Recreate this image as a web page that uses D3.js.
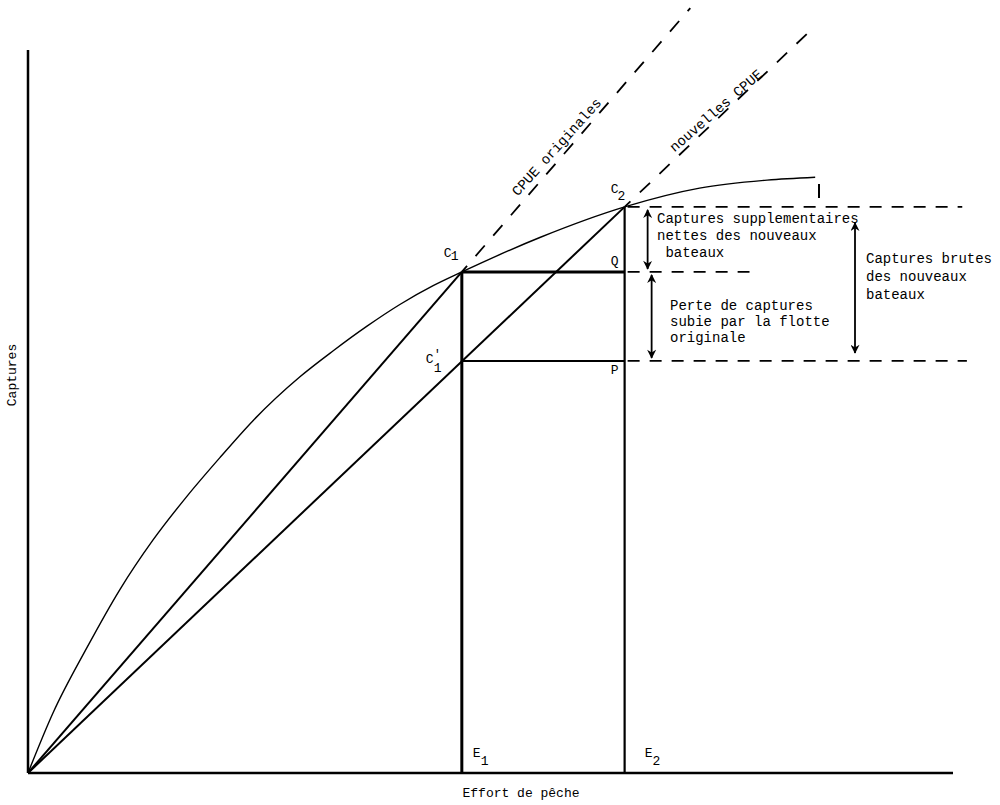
<!DOCTYPE html>
<html>
<head>
<meta charset="utf-8">
<script src="https://cdn.jsdelivr.net/npm/d3@7"></script>
<style>
  html, body { margin: 0; padding: 0; background: #fff; }
  svg { display: block; }
  text { font-family: "Liberation Mono", "DejaVu Sans Mono", monospace; fill: #000; }
</style>
</head>
<body>
<svg id="chart" width="1000" height="805"></svg>
<script>
// ---------- data (abstract units: effort 0..10, captures 0..10) ----------
const curveEffort   = [0, 0.27, 0.64, 0.99, 1.35, 1.72, 2.08, 2.43, 2.94, 3.30, 3.665, 4.02, 4.38, 4.69, 5.54, 6.45, 7.26, 7.99, 8.51];
const curveCaptures = [0, 0.83, 1.74, 2.53, 3.22, 3.83, 4.37, 4.87, 5.48, 5.84, 6.18, 6.48, 6.74, 6.93, 7.41, 7.83, 8.09, 8.20, 8.24];
const effortLevels  = [4.69, 6.45];          // E1, E2
const effortNames   = ["E", "E"];
const effortSubs    = ["1", "2"];
const captureC1 = 6.93, captureC2 = 7.83, captureC1p = 5.70;   // C1, C2, C'1
const cpueOrigEnd = 7.16, cpueNewEnd = 8.45;                   // dashed extension ends (effort)
const levelLineEnds = [10.1, 7.8, 10.15];                      // C2, Q, P dashed level ends (effort)
const axisTitles = ["Effort de pêche", "Captures"];
const noteNet   = ["Captures supplementaires", "nettes des nouveaux", " bateaux"];
const noteLoss  = ["Perte de captures", "subie par la flotte", "originale"];
const noteGross = ["Captures brutes", "des nouveaux", "bateaux"];
const lineNames = ["CPUE originales", "nouvelles CPUE"];

// ---------- scales ----------
const x = d3.scaleLinear().domain([0, 10]).range([28, 953]);
const y = d3.scaleLinear().domain([0, 10]).range([773, 50]);
const svg = d3.select("#chart");

// markers
const defs = svg.append("defs");
defs.append("marker").attr("id", "ah").attr("viewBox", "0 0 10 10")
  .attr("refX", 9).attr("refY", 5).attr("markerWidth", 10).attr("markerHeight", 9)
  .attr("markerUnits", "userSpaceOnUse").attr("orient", "auto-start-reverse")
  .append("path").attr("d", "M0,0 L10,5 L0,10 L3,5 Z").attr("fill", "#000");

// axes (plain lines, no ticks)
svg.append("line").attr("x1", x(0)).attr("x2", x(0)).attr("y1", y(0)).attr("y2", y(10))
  .attr("stroke", "#000").attr("stroke-width", 2.5);
svg.append("line").attr("x1", x(0)).attr("x2", x(10)).attr("y1", y(0)).attr("y2", y(0))
  .attr("stroke", "#000").attr("stroke-width", 2.5);

// production curve
const curveData = curveEffort.map((e, i) => [e, curveCaptures[i]]);
svg.append("path").datum(curveData)
  .attr("d", d3.line().x(d => x(d[0])).y(d => y(d[1])).curve(d3.curveMonotoneX))
  .attr("fill", "none").attr("stroke", "#000").attr("stroke-width", 1.4);

const E1 = effortLevels[0], E2 = effortLevels[1];
const s1 = captureC1 / E1, s2 = captureC2 / E2;

// CPUE lines (solid part) and dashed extensions
svg.append("line").attr("x1", x(0)).attr("y1", y(0)).attr("x2", x(E1)).attr("y2", y(captureC1))
  .attr("stroke", "#000").attr("stroke-width", 2);
svg.append("line").attr("x1", x(0)).attr("y1", y(0)).attr("x2", x(E2)).attr("y2", y(captureC2))
  .attr("stroke", "#000").attr("stroke-width", 2);
svg.append("line").attr("x1", x(E1)).attr("y1", y(captureC1)).attr("x2", x(cpueOrigEnd)).attr("y2", y(s1 * cpueOrigEnd))
  .attr("stroke", "#000").attr("stroke-width", 1.8).attr("stroke-dasharray", "14,13").attr("stroke-dashoffset", 6);
svg.append("line").attr("x1", x(E2)).attr("y1", y(captureC2)).attr("x2", x(cpueNewEnd)).attr("y2", y(s2 * cpueNewEnd))
  .attr("stroke", "#000").attr("stroke-width", 1.8).attr("stroke-dasharray", "14,13").attr("stroke-dashoffset", 6);

// rectangle / verticals
svg.append("line").attr("x1", x(E1)).attr("x2", x(E1)).attr("y1", y(captureC1)).attr("y2", y(0))
  .attr("stroke", "#000").attr("stroke-width", 3);
svg.append("line").attr("x1", x(E2)).attr("x2", x(E2)).attr("y1", y(captureC2)).attr("y2", y(0))
  .attr("stroke", "#000").attr("stroke-width", 2.2);
svg.append("line").attr("x1", x(E1)).attr("x2", x(E2)).attr("y1", y(captureC1)).attr("y2", y(captureC1))
  .attr("stroke", "#000").attr("stroke-width", 3);
svg.append("line").attr("x1", x(E1)).attr("x2", x(E2)).attr("y1", y(captureC1p)).attr("y2", y(captureC1p))
  .attr("stroke", "#000").attr("stroke-width", 2);

// dashed level lines
[captureC2, captureC1, captureC1p].forEach((c, i) => {
  svg.append("line").attr("x1", x(E2) + 3).attr("x2", x(levelLineEnds[i])).attr("y1", y(c)).attr("y2", y(c))
    .attr("stroke", "#000").attr("stroke-width", 1.8).attr("stroke-dasharray", "12,10");
});

// double arrows
function dblArrow(xv, c0, c1, off0, off1) {
  svg.append("line").attr("x1", xv).attr("x2", xv)
    .attr("y1", y(c0) + off0).attr("y2", y(c1) + off1)
    .attr("stroke", "#000").attr("stroke-width", 1.8)
    .attr("marker-start", "url(#ah)").attr("marker-end", "url(#ah)");
}
dblArrow(x(E2) + 23, captureC2, captureC1, 3, -3);
dblArrow(x(E2) + 27, captureC1, captureC1p, 3, -3);
dblArrow(855, captureC2, captureC1p, 16, -8);
// small tick near curve end
svg.append("line").attr("x1", 819).attr("x2", 819).attr("y1", 184).attr("y2", 198)
  .attr("stroke", "#000").attr("stroke-width", 2);

// ---------- text ----------
const fs = 14;
// axis titles
svg.append("text").attr("x", 521).attr("y", 797).attr("text-anchor", "middle")
  .style("font-size", "13px").text(axisTitles[0]);
svg.append("text").attr("transform", `translate(16,${375}) rotate(-90)`).attr("text-anchor", "middle")
  .style("font-size", "13px").text(axisTitles[1]);

// E labels (to the right of each vertical)
effortLevels.forEach((e, i) => {
  const t = svg.append("text").attr("x", x(e) + (i === 0 ? 11 : 20)).attr("y", 757).style("font-size", "13px");
  t.append("tspan").text(effortNames[i]);
  t.append("tspan").attr("dy", 8).text(effortSubs[i]);
});

// point labels
function ptLabel(px, py, main, sub, subDx, subDy) {
  const t = svg.append("text").attr("x", px).attr("y", py).style("font-size", "13px");
  t.append("tspan").text(main);
  if (sub) t.append("tspan").attr("dy", subDy).attr("dx", subDx).text(sub);
}
ptLabel(x(E1) - 18, y(captureC1) - 15, "C", "1", -1, 3);
ptLabel(x(E2) - 14, y(captureC2) - 14, "C", "2", -1, 7);
// C'1 : letter, prime and subscript as separate texts
svg.append("text").attr("x", x(E1) - 36).attr("y", y(captureC1p) + 2).style("font-size", "13px").text("C");
svg.append("text").attr("x", x(E1) - 28).attr("y", y(captureC1p) - 3).style("font-size", "12px").text("'");
svg.append("text").attr("x", x(E1) - 28).attr("y", y(captureC1p) + 11).style("font-size", "13px").text("1");
svg.append("text").attr("x", x(E2) - 14).attr("y", y(captureC1) - 7).style("font-size", "13px").text("Q");
svg.append("text").attr("x", x(E2) - 14).attr("y", y(captureC1p) + 13).style("font-size", "13px").text("P");

// notes
function note(lines, x0, y0, lh) {
  lines.forEach((l, i) => {
    svg.append("text").attr("x", x0).attr("y", y0 + i * lh).attr("xml:space", "preserve")
      .style("font-size", fs + "px").style("white-space", "pre").text(l);
  });
}
note(noteNet, 657, 223, 17);
note(noteLoss, 670, 310, 16);
note(noteGross, 866, 263, 18);

// line names (rotated along the dashed lines)
svg.append("text").attr("transform", `translate(560,150) rotate(-48)`).attr("text-anchor", "middle")
  .style("font-size", fs + "px").text(lineNames[0]);
svg.append("text").attr("transform", `translate(719,114) rotate(-41)`).attr("text-anchor", "middle")
  .style("font-size", fs + "px").text(lineNames[1]);
</script>
</body>
</html>
